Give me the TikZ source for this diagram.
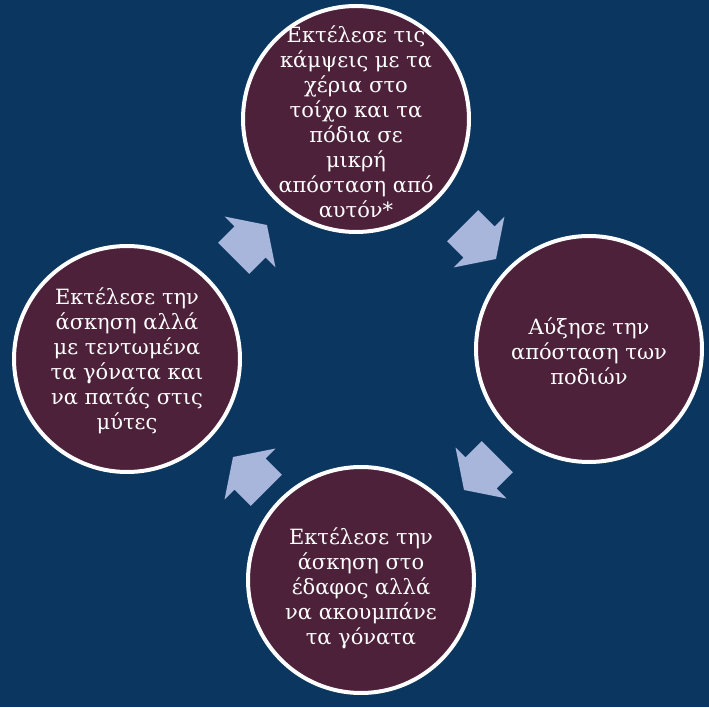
\documentclass[tikz,border=0pt]{standalone}
\usepackage{fontspec}
\setmainfont{DejaVu Serif}
\definecolor{bgblue}{RGB}{11,54,96}
\definecolor{stepfill}{RGB}{77,33,58}
\definecolor{arrowblue}{RGB}{168,182,220}
\begin{document}
\begin{tikzpicture}[x=1pt,y=1pt,
  stepcircle/.style={circle, draw=white, line width=4pt, fill=stepfill,
    minimum size=226pt, inner sep=0pt},
  steptext/.style={text=white, align=center, inner sep=0pt,
    font=\fontsize{21}{25}\selectfont},
  cyclearrow/.pic={\fill[arrowblue] (-23,-22) -- (0,-22) -- (0,-36) -- (24,0)
    -- (0,36) -- (0,22) -- (-23,22) -- cycle;}]
  % background
  \fill[bgblue] (0,0) rectangle (709,707);
  \useasboundingbox (0,0) rectangle (709,707);
  % the four steps of the cycle
  \node[stepcircle] (top) at (356,588) {};
  \node[stepcircle] (right) at (589,358) {};
  \node[stepcircle] (bottom) at (361,127) {};
  \node[stepcircle] (left) at (127,348) {};
  \node[steptext] (toptext) at ([yshift=-3pt]top.center) {Εκτέλεσε τις\\κάμψεις με τα\\χέρια στο\\τοίχο και τα\\πόδια σε\\μικρή\\απόσταση από\\αυτόν*};
  \node[steptext] (righttext) at ([yshift=-2pt]right.center) {Αύξησε την\\απόσταση των\\ποδιών};
  \node[steptext] (bottomtext) at ([yshift=-8pt]bottom.center) {Εκτέλεσε την\\άσκηση στο\\έδαφος αλλά\\να ακουμπάνε\\τα γόνατα};
  \node[steptext] (lefttext) at ([yshift=-2pt]left.center) {Εκτέλεσε την\\άσκηση αλλά\\με τεντωμένα\\τα γόνατα και\\να πατάς στις\\μύτες};
  % block arrows between the steps
  \coordinate (a1) at (250,465);
  \coordinate (a2) at (479,465);
  \coordinate (a3) at (481,234);
  \coordinate (a4) at (250,233);
  \pic[rotate=45] at (a1) {cyclearrow};
  \pic[rotate=-45] at (a2) {cyclearrow};
  \pic[rotate=-135] at (a3) {cyclearrow};
  \pic[rotate=135] at (a4) {cyclearrow};
\end{tikzpicture}
\end{document}
